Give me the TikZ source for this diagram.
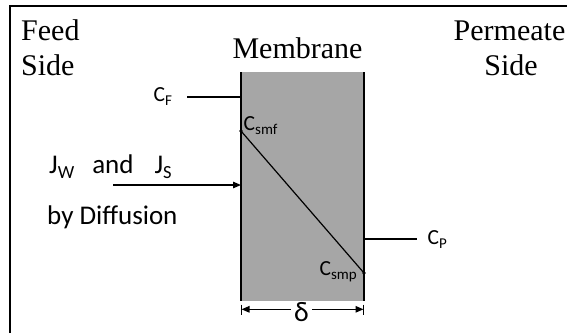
\documentclass[tikz,border=0pt]{standalone}
\usepackage{fontspec}
\setmainfont{Liberation Serif}
\newfontfamily\labelfont{Carlito}
\usetikzlibrary{arrows.meta}
\definecolor{membranegray}{HTML}{A6A6A6}
% lowered subscripts for the concentration and flux labels
\newcommand\csub[1]{\raisebox{-0.2em}{\fontsize{15}{15}\selectfont #1}}
\newcommand\jsub[1]{\raisebox{-0.2em}{\fontsize{18.5}{18.5}\selectfont #1}}
\begin{document}
\begin{tikzpicture}[x=1pt,y=-1pt,
  heading/.style={font=\fontsize{30}{32}\selectfont, inner sep=0pt},
  conc/.style={font=\labelfont\fontsize{21.5}{23}\selectfont, inner sep=0pt},
  flux/.style={font=\labelfont\fontsize{27}{29}\selectfont, inner sep=0pt},
  frameline/.style={line width=1.6pt, black},
  wall/.style={line width=1.8pt, black},
  link/.style={line width=1.2pt, black},
  tip/.style={-{Triangle[length=8pt,width=6.5pt]}},
  dot/.style={circle, fill=black, inner sep=0pt, minimum size=3.6pt}]
\useasboundingbox (0,0) rectangle (567,333);

% outer frame (left and top edges)
\coordinate (frtop) at (10,5.8);
\coordinate (frbot) at (10,333);
\coordinate (frright) at (567,5.8);
\draw[frameline] (frbot) -- (frtop) -- (frright);

% membrane slab
\coordinate (mtl) at (241,72);
\coordinate (mbl) at (241,301);
\coordinate (mtr) at (364,72);
\coordinate (mbr) at (364,301);
\fill[membranegray] (mtl) rectangle (mbr);
\draw[wall] (mtl) -- (mbl);
\draw[wall] (mtr) -- (mbr);

% headings
\node[heading, anchor=base west] (feed) at (21,40.7) {Feed};
\node[heading, anchor=base west] (feedside) at (21,75) {Side};
\node[heading, anchor=base] (membrane) at (297.5,58) {Membrane};
\node[heading, anchor=base east] (permeate) at (565.5,40.7) {Permeate};
\node[heading, anchor=base] (permside) at (511,75) {Side};

% feed concentration
\node[conc, anchor=base west] (cf) at (153.5,101) {C\csub{F}};
\coordinate (cfstart) at (187,97);
\coordinate (cfwall) at (241,97);
\draw[link] (cfstart) -- (cfwall);

% permeate concentration
\node[conc, anchor=base west] (cp) at (427.5,244) {C\csub{P}};
\coordinate (cpwall) at (364,239);
\coordinate (cpend) at (417,239);
\draw[link] (cpwall) -- (cpend);

% concentration profile across the membrane
\node[dot] (smf) at (241,131) {};
\node[dot] (smp) at (364,273) {};
\draw[link] (smf.center) -- (smp.center);
\node[conc, anchor=base west] (csmf) at (243.5,130) {C\csub{smf}};
\node[conc, anchor=base east] (csmp) at (357,275.6) {C\csub{smp}};

% fluxes
\node[flux, anchor=base west] (flux) at (49,173.3)
  {J\jsub{W}\hspace{18pt}and\hspace{21pt}J\jsub{S}};
\node[flux, anchor=base west] (diff) at (47,224) {by Diffusion};
\coordinate (jstart) at (113,185);
\coordinate (jwall) at (241,185);
\draw[link, tip] (jstart) -- (jwall);

% thickness dimension
\node[font=\labelfont\fontsize{28}{30}\selectfont, inner sep=0pt] (delta) at (301.5,312) {δ};
\coordinate (dl) at (241.5,309.3);
\coordinate (dr) at (363.5,309.3);
\coordinate (dlt) at (241.5,304.5);
\coordinate (dlb) at (241.5,314.5);
\coordinate (drt) at (363.5,304.5);
\coordinate (drb) at (363.5,314.5);
\draw[link] (dlt) -- (dlb);
\draw[link] (drt) -- (drb);
\draw[link, tip] (delta.west |- dl) ++(-3,0) -- (dl);
\draw[link, tip] (delta.east |- dr) ++(3,0) -- (dr);
\end{tikzpicture}
\end{document}
